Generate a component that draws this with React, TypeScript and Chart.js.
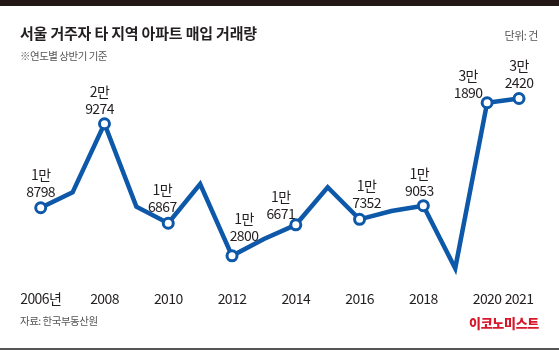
import React, { useEffect, useRef } from "react";
import { Chart, registerables } from "chart.js";

Chart.register(...registerables);

const years = [2006, 2007, 2008, 2009, 2010, 2011, 2012, 2013, 2014, 2015, 2016, 2017, 2018, 2019, 2020, 2021];
const deals = [18798, 20720, 29274, 18930, 16867, 21760, 12800, 14900, 16671, 21350, 17352, 18390, 19053, 11250, 31890, 32420];
const labeledYears = [2006, 2008, 2010, 2012, 2014, 2016, 2018, 2020, 2021];
const tickYears = [2006, 2008, 2010, 2012, 2014, 2016, 2018, 2020, 2021];

const BLUE = "#0d58a9";
const KFONT = '"Noto Sans CJK KR", "Noto Sans", sans-serif';

// label placement relative to point (number line centre)
const labelOffsets: Record<number, [number, number]> = {
  2006: [0, -16],
  2008: [-5, -15],
  2010: [-6, -17],
  2012: [12, -20],
  2014: [-15, -11],
  2016: [7, -17],
  2018: [-4, -15],
  2020: [-19, -10],
  2021: [0, -16],
};

const spacingPlugin = {
  id: "spacing",
  beforeDraw(chart: any) {
    try { (chart.ctx as any).letterSpacing = "-0.6px"; } catch (e) {}
  },
};

const labelPlugin = {
  id: "valueLabels",
  afterDatasetsDraw(chart: any) {
    const meta = chart.getDatasetMeta(0);
    const ctx = chart.ctx;
    ctx.save();
    ctx.fillStyle = "#231f20";
    ctx.textAlign = "center";
    ctx.textBaseline = "middle";
    ctx.font = `400 14px ${KFONT}`;
    try { (ctx as any).letterSpacing = "-0.6px"; } catch (e) {}
    meta.data.forEach((pt: any, i: number) => {
      const yr = years[i];
      if (!labeledYears.includes(yr)) return;
      const v = deals[i];
      const top = Math.floor(v / 10000) + "만";
      const bottom = String(v % 10000).padStart(4, "0");
      const [dx, dy] = labelOffsets[yr] || [0, -16];
      ctx.fillText(bottom, pt.x + dx, pt.y + dy);
      ctx.fillText(top, pt.x + dx, pt.y + dy - 17);
    });
    ctx.restore();
  },
};

export default function App() {
  const ref = useRef<HTMLCanvasElement | null>(null);
  useEffect(() => {
    document.body.style.margin = "0";
    if (!ref.current) return;
    const chart = new Chart(ref.current, {
      type: "line",
      data: {
        datasets: [
          {
            data: years.map((y, i) => ({ x: y, y: deals[i] })),
            borderColor: BLUE,
            borderWidth: 4.5,
            borderJoinStyle: "miter",
            tension: 0,
            clip: false,
            pointRadius: years.map((y) => (labeledYears.includes(y) ? 5 : 0)),
            pointBackgroundColor: "#ffffff",
            pointBorderColor: BLUE,
            pointBorderWidth: 3,
            fill: false,
          },
        ],
      },
      options: {
        animation: false,
        responsive: false,
        maintainAspectRatio: false,
        devicePixelRatio: 1,
        layout: { padding: { left: 40.7, right: 40, top: 77.8, bottom: 0 } },
        plugins: { legend: { display: false }, tooltip: { enabled: false } },
        scales: {
          x: {
            type: "linear",
            min: 2006,
            max: 2021,
            grid: { display: false, drawTicks: false },
            border: { display: false },
            afterBuildTicks: (scale: any) => {
              scale.ticks = tickYears.map((v) => ({ value: v }));
            },
            afterFit: (scale: any) => {
              scale.height = 71.7;
            },
            ticks: {
              autoSkip: false,
              maxRotation: 0,
              padding: 12,
              color: "#231f20",
              font: { family: KFONT, size: 14 },
              callback: (v: any) => (Number(v) === 2006 ? "2006년" : String(v)),
            },
          },
          y: {
            display: false,
            min: 10000,
            max: 35000,
          },
        },
      },
      plugins: [spacingPlugin, labelPlugin],
    } as any);
    return () => chart.destroy();
  }, []);

  const base: React.CSSProperties = { position: "absolute", fontFamily: KFONT, whiteSpace: "nowrap", lineHeight: 1 };
  return (
    <div style={{ position: "absolute", left: 0, top: 0, width: 559, height: 350, background: "#fff", overflow: "hidden" }}>
      <canvas ref={ref} width={559} height={350} style={{ position: "absolute", left: 0, top: 0, width: 559, height: 350 }} />
      <div style={{ position: "absolute", left: 0, top: 0, width: 559, height: 6, background: "#231815" }} />
      <div style={{ ...base, left: 20, top: 25, fontSize: 15, fontWeight: 700, color: "#231f20", letterSpacing: -0.2 }}>
        서울 거주자 타 지역 아파트 매입 거래량
      </div>
      <div style={{ ...base, left: 20, top: 51, fontSize: 10.5, color: "#555", letterSpacing: -0.5 }}>※연도별 상반기 기준</div>
      <div style={{ ...base, right: 21, top: 30, fontSize: 11, color: "#555", letterSpacing: -0.5 }}>단위: 건</div>
      <div style={{ ...base, left: 20, top: 316, fontSize: 10.5, color: "#555", letterSpacing: -0.5 }}>자료: 한국부동산원</div>
      <div style={{ ...base, right: 20, top: 316, fontSize: 13, fontWeight: 900, color: "#d7182a", letterSpacing: -0.3 }}>이코노미스트</div>
      <div style={{ position: "absolute", left: 0, top: 347.5, width: 559, height: 2.5, background: "#555" }} />
    </div>
  );
}
